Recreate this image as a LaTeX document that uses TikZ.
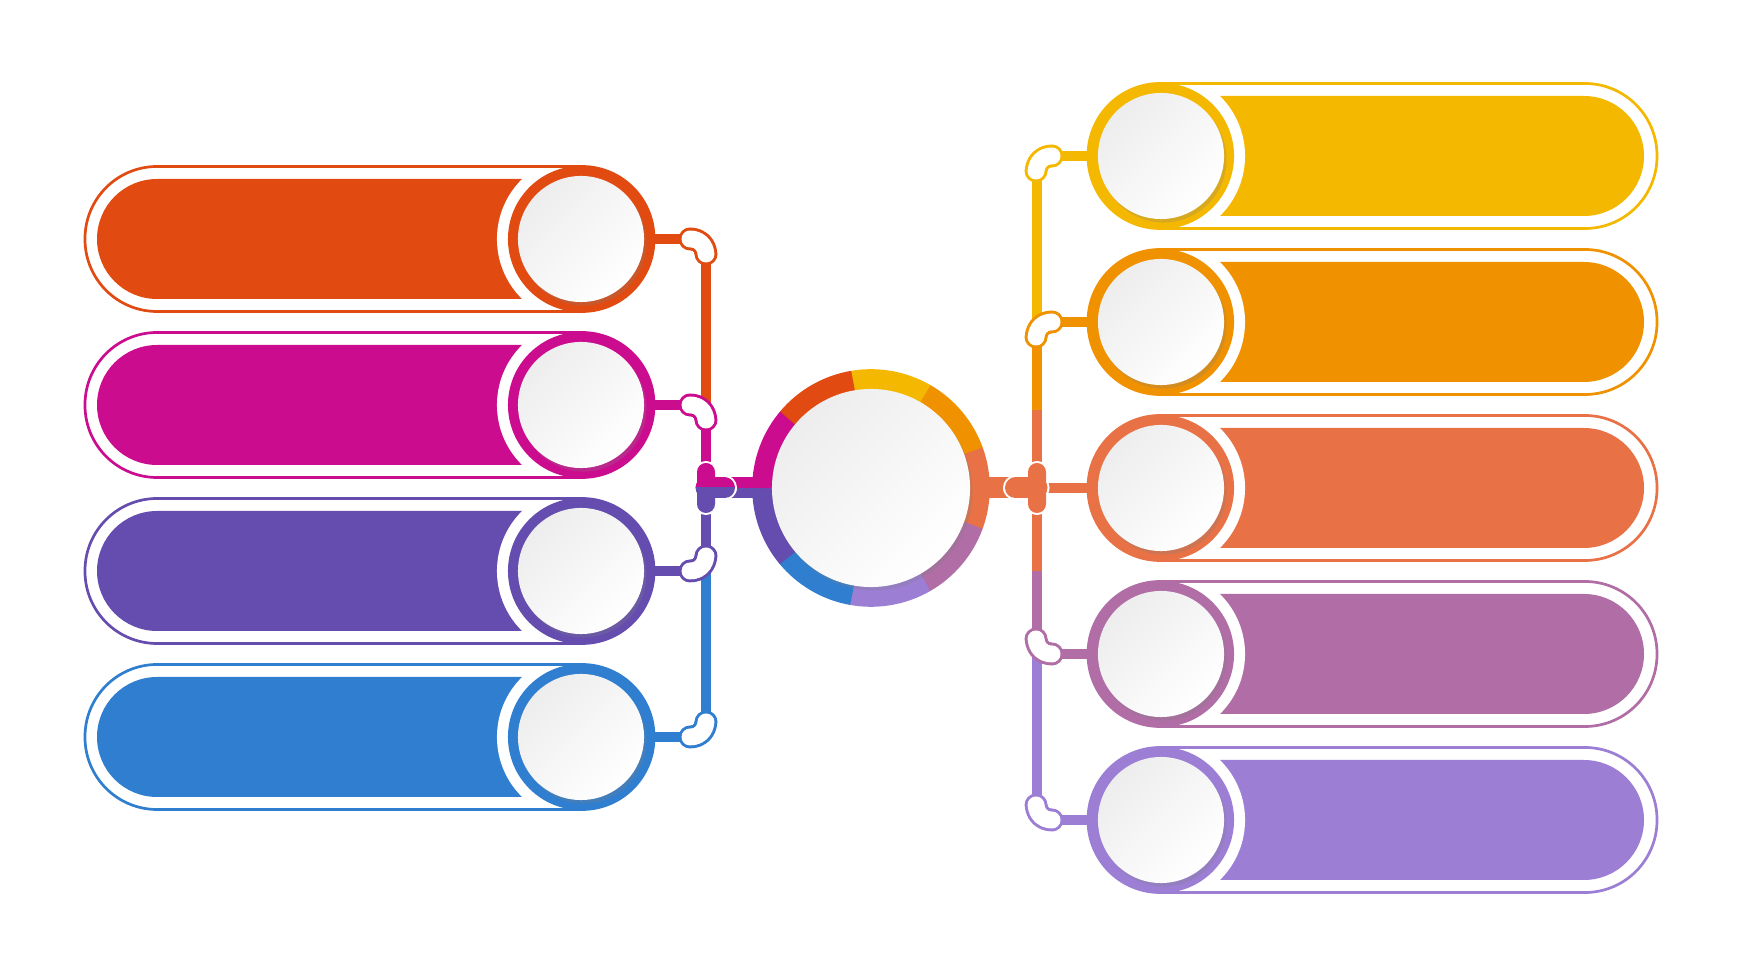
\documentclass[tikz,border=0pt]{standalone}
\usepackage{tikz}
\usetikzlibrary{shadows}

\definecolor{cRed}{HTML}{E14A11}
\definecolor{cMagenta}{HTML}{CC0C8F}
\definecolor{cPurple}{HTML}{654CAF}
\definecolor{cBlue}{HTML}{2F7ED0}
\definecolor{cYellow}{HTML}{F5B800}
\definecolor{cAmber}{HTML}{F09100}
\definecolor{cCoral}{HTML}{E87145}
\definecolor{cMauve}{HTML}{B06DA6}
\definecolor{cLavender}{HTML}{9C7ED5}

\tikzset{
	ring/.style={circle, inner sep=0pt, minimum size=1.46cm, fill=#1},
	gap/.style={circle, inner sep=0pt, minimum size=1.68cm, fill=white},
	disc/.style={circle, inner sep=0pt, minimum size=1.26cm, top color=black!7, bottom color=white, shading angle=45,
		drop shadow={opacity=.25, shadow xshift=.025cm, shadow yshift=-.035cm}},
	hub/.style={disc, minimum size=1.98cm},
	bar/.style={fill=#1, rounded corners=0.6cm},
	rim/.style={draw=#1, line width=0.027cm, rounded corners=0.72cm},
	link/.style={draw=#1, line width=0.1cm},
}

% bent knob: colour, start point, x sign, y sign
\newcommand{\drawbean}[4]{%
	\foreach \r/\f in {0.115cm/#1, 0.085cm/white}
		\foreach \u/\v in {0/0, 3/0.2, 6/1, 8.5/2.2, 11/4, 13/6.3, 14.5/9, 15.5/12, 16/15}
			\fill[\f] ([shift={(#3*\u,#4*\v)}]#2) circle[radius=\r];}

\begin{document}
\begin{tikzpicture}[x=0.01cm, y=-0.01cm]
	\useasboundingbox (0,0) rectangle (1742,980);

	% left pills
	\fill[bar=cRed] (97,179) rectangle (620,299);
	\node[gap] (L1g) at (581,239) {};
	\draw[rim=cRed] (85,166.5) rectangle (654,311.5);
	\node[ring=cRed] (L1) at (581,239) {};
	\node[disc] (L1d) at (L1) {};

	\fill[bar=cMagenta] (97,345) rectangle (620,465);
	\node[gap] (L2g) at (581,405) {};
	\draw[rim=cMagenta] (85,332.5) rectangle (654,477.5);
	\node[ring=cMagenta] (L2) at (581,405) {};
	\node[disc] (L2d) at (L2) {};

	\fill[bar=cPurple] (97,511) rectangle (620,631);
	\node[gap] (L3g) at (581,571) {};
	\draw[rim=cPurple] (85,498.5) rectangle (654,643.5);
	\node[ring=cPurple] (L3) at (581,571) {};
	\node[disc] (L3d) at (L3) {};

	\fill[bar=cBlue] (97,677) rectangle (620,797);
	\node[gap] (L4g) at (581,737) {};
	\draw[rim=cBlue] (85,664.5) rectangle (654,809.5);
	\node[ring=cBlue] (L4) at (581,737) {};
	\node[disc] (L4d) at (L4) {};

	% right pills
	\fill[bar=cYellow] (1120,96) rectangle (1644,216);
	\node[gap] (R1g) at (1161,156) {};
	\draw[rim=cYellow] (1088,83.5) rectangle (1657,228.5);
	\node[ring=cYellow] (R1) at (1161,156) {};
	\node[disc] (R1d) at (R1) {};

	\fill[bar=cAmber] (1120,262) rectangle (1644,382);
	\node[gap] (R2g) at (1161,322) {};
	\draw[rim=cAmber] (1088,249.5) rectangle (1657,394.5);
	\node[ring=cAmber] (R2) at (1161,322) {};
	\node[disc] (R2d) at (R2) {};

	\fill[bar=cCoral] (1120,428) rectangle (1644,548);
	\node[gap] (R3g) at (1161,488) {};
	\draw[rim=cCoral] (1088,415.5) rectangle (1657,560.5);
	\node[ring=cCoral] (R3) at (1161,488) {};
	\node[disc] (R3d) at (R3) {};

	\fill[bar=cMauve] (1120,594) rectangle (1644,714);
	\node[gap] (R4g) at (1161,654) {};
	\draw[rim=cMauve] (1088,581.5) rectangle (1657,726.5);
	\node[ring=cMauve] (R4) at (1161,654) {};
	\node[disc] (R4d) at (R4) {};

	\fill[bar=cLavender] (1120,760) rectangle (1644,880);
	\node[gap] (R5g) at (1161,820) {};
	\draw[rim=cLavender] (1088,747.5) rectangle (1657,892.5);
	\node[ring=cLavender] (R5) at (1161,820) {};
	\node[disc] (R5d) at (R5) {};

	% joints
	\coordinate (La1) at (690,239); \coordinate (Lb1) at (706,254);
	\coordinate (La2) at (690,405); \coordinate (Lb2) at (706,420);
	\coordinate (La3) at (690,571); \coordinate (Lb3) at (706,556);
	\coordinate (La4) at (690,737); \coordinate (Lb4) at (706,722);
	\coordinate (LT) at (706,488);
	\coordinate (Ra1) at (1052,156); \coordinate (Rb1) at (1037,171);
	\coordinate (Ra2) at (1052,322); \coordinate (Rb2) at (1037,337);
	\coordinate (Ra4) at (1052,654); \coordinate (Rb4) at (1037,639);
	\coordinate (Ra5) at (1052,820); \coordinate (Rb5) at (1037,805);
	\coordinate (Rm1) at (1037,410); \coordinate (Rm2) at (1037,571);
	\coordinate (RT) at (1037,488);
	\coordinate (C) at (871,488);

	\draw[link=cRed] (L1.east) -- (La1);
	\draw[link=cMagenta] (L2.east) -- (La2);
	\draw[link=cPurple] (L3.east) -- (La3);
	\draw[link=cBlue] (L4.east) -- (La4);
	\draw[link=cRed] (Lb1) -- (Lb2);
	\draw[link=cMagenta] (Lb2) -- (LT);
	\draw[link=cPurple] (LT) -- (Lb3);
	\draw[link=cBlue] (Lb3) -- (Lb4);

	\draw[link=cYellow] (R1.west) -- (Ra1);
	\draw[link=cAmber] (R2.west) -- (Ra2);
	\draw[link=cCoral] (R3.west) -- (RT);
	\draw[link=cMauve] (R4.west) -- (Ra4);
	\draw[link=cLavender] (R5.west) -- (Ra5);
	\draw[link=cYellow] (Rb1) -- (Rb2);
	\draw[link=cAmber] (Rb2) -- (Rm1);
	\draw[link=cCoral] (Rm1) -- (Rm2);
	\draw[link=cMauve] (Rm2) -- (Rb4);
	\draw[link=cLavender] (Rb4) -- (Rb5);

	% center
	\draw[cMagenta, line width=0.105cm] ([yshift=0.0525cm]LT) -- ([yshift=0.0525cm]C);
	\draw[cPurple, line width=0.105cm] ([yshift=-0.0525cm]LT) -- ([yshift=-0.0525cm]C);
	\draw[cCoral, line width=0.21cm] (C) -- (RT);
	\foreach \a/\c in {100/cYellow, 60/cAmber, 20/cCoral, -20/cMauve, -60/cLavender,
		-100/cBlue, -140/cPurple, -180/cMagenta, 140/cRed}
		\draw[\c, line width=0.205cm] ([shift={(\a:1.085cm)}]C) arc[start angle=\a, end angle=\a-40.5, radius=1.085cm];
	\node[hub] (Cd) at (C) {};

	% tees
	\draw[white, line width=0.04cm, rounded corners=0.09cm] (697,463) rectangle (715,513);
	\draw[white, line width=0.25cm, line cap=round] (LT) -- (724.5,488);
	\begin{scope}
		\clip (680,450) rectangle (760,488);
		\fill[cMagenta, rounded corners=0.09cm] (697,463) rectangle (715,513);
		\draw[cMagenta, line width=0.21cm, line cap=round] (LT) -- (724.5,488);
	\end{scope}
	\begin{scope}
		\clip (680,488) rectangle (760,530);
		\fill[cPurple, rounded corners=0.09cm] (697,463) rectangle (715,513);
		\draw[cPurple, line width=0.21cm, line cap=round] (LT) -- (724.5,488);
	\end{scope}

	\draw[white, line width=0.04cm, rounded corners=0.09cm] (1028,463) rectangle (1046,513);
	\draw[white, line width=0.25cm, line cap=round] (RT) -- (1015.5,488);
	\fill[cCoral, rounded corners=0.09cm] (1028,463) rectangle (1046,513);
	\draw[cCoral, line width=0.21cm, line cap=round] (RT) -- (1015.5,488);

	% beans
	\drawbean{cRed}{La1}{1}{1}
	\drawbean{cMagenta}{La2}{1}{1}
	\drawbean{cPurple}{La3}{1}{-1}
	\drawbean{cBlue}{La4}{1}{-1}
	\drawbean{cYellow}{Ra1}{-1}{1}
	\drawbean{cAmber}{Ra2}{-1}{1}
	\drawbean{cMauve}{Ra4}{-1}{-1}
	\drawbean{cLavender}{Ra5}{-1}{-1}
\end{tikzpicture}
\end{document}
